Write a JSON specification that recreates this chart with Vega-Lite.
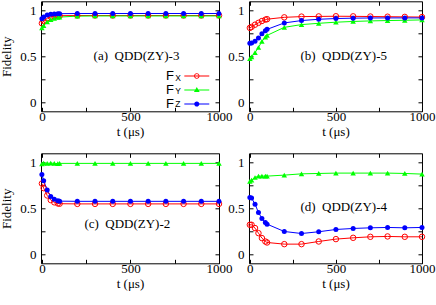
{
  "$schema": "https://vega.github.io/schema/vega-lite/v6.json",
  "padding": {"left": 0, "top": 0.3, "right": 5, "bottom": 5},
  "config": {
    "view": {"stroke": "#000000", "strokeWidth": 1},
    "axis": {"grid": false, "domain": false, "tickColor": "#000000", "tickSize": -4, "tickWidth": 1, "labelFont": "Liberation Serif", "labelFontSize": 13, "labelColor": "#000000", "titleFont": "Liberation Serif", "titleFontSize": 13, "titleFontWeight": "normal", "titleColor": "#000000", "labelFlush": false, "labelOverlap": false},
    "axisX": {"labelPadding": 3.5, "titlePadding": 2},
    "axisY": {"labelPadding": 9, "titlePadding": 6},
    "line": {"strokeWidth": 1},
    "text": {"font": "Liberation Serif", "fontSize": 13, "color": "#000000", "align": "left", "baseline": "middle"}
  },
  "data": {"values": [
    {"panel":"a","series":"X","t":0,"v":0.86},{"panel":"a","series":"X","t":10,"v":0.885},{"panel":"a","series":"X","t":30,"v":0.915},{"panel":"a","series":"X","t":50,"v":0.93},{"panel":"a","series":"X","t":70,"v":0.938},{"panel":"a","series":"X","t":90,"v":0.942},{"panel":"a","series":"X","t":100,"v":0.943},{"panel":"a","series":"X","t":200,"v":0.945},{"panel":"a","series":"X","t":300,"v":0.945},{"panel":"a","series":"X","t":400,"v":0.945},{"panel":"a","series":"X","t":500,"v":0.945},{"panel":"a","series":"X","t":600,"v":0.945},{"panel":"a","series":"X","t":700,"v":0.945},{"panel":"a","series":"X","t":800,"v":0.945},{"panel":"a","series":"X","t":900,"v":0.945},{"panel":"a","series":"X","t":1000,"v":0.945},
    {"panel":"a","series":"Y","t":0,"v":0.81},{"panel":"a","series":"Y","t":10,"v":0.835},{"panel":"a","series":"Y","t":30,"v":0.875},{"panel":"a","series":"Y","t":50,"v":0.9},{"panel":"a","series":"Y","t":70,"v":0.915},{"panel":"a","series":"Y","t":90,"v":0.925},{"panel":"a","series":"Y","t":100,"v":0.928},{"panel":"a","series":"Y","t":200,"v":0.938},{"panel":"a","series":"Y","t":300,"v":0.94},{"panel":"a","series":"Y","t":400,"v":0.94},{"panel":"a","series":"Y","t":500,"v":0.94},{"panel":"a","series":"Y","t":600,"v":0.94},{"panel":"a","series":"Y","t":700,"v":0.94},{"panel":"a","series":"Y","t":800,"v":0.94},{"panel":"a","series":"Y","t":900,"v":0.94},{"panel":"a","series":"Y","t":1000,"v":0.94},
    {"panel":"a","series":"Z","t":0,"v":0.91},{"panel":"a","series":"Z","t":10,"v":0.93},{"panel":"a","series":"Z","t":30,"v":0.95},{"panel":"a","series":"Z","t":50,"v":0.958},{"panel":"a","series":"Z","t":70,"v":0.962},{"panel":"a","series":"Z","t":90,"v":0.965},{"panel":"a","series":"Z","t":100,"v":0.965},{"panel":"a","series":"Z","t":200,"v":0.967},{"panel":"a","series":"Z","t":300,"v":0.967},{"panel":"a","series":"Z","t":400,"v":0.967},{"panel":"a","series":"Z","t":500,"v":0.967},{"panel":"a","series":"Z","t":600,"v":0.967},{"panel":"a","series":"Z","t":700,"v":0.967},{"panel":"a","series":"Z","t":800,"v":0.967},{"panel":"a","series":"Z","t":900,"v":0.967},{"panel":"a","series":"Z","t":1000,"v":0.967},
    {"panel":"b","series":"X","t":0,"v":0.81},{"panel":"b","series":"X","t":10,"v":0.82},{"panel":"b","series":"X","t":30,"v":0.845},{"panel":"b","series":"X","t":50,"v":0.865},{"panel":"b","series":"X","t":70,"v":0.885},{"panel":"b","series":"X","t":90,"v":0.9},{"panel":"b","series":"X","t":100,"v":0.905},{"panel":"b","series":"X","t":200,"v":0.925},{"panel":"b","series":"X","t":300,"v":0.933},{"panel":"b","series":"X","t":400,"v":0.935},{"panel":"b","series":"X","t":500,"v":0.937},{"panel":"b","series":"X","t":600,"v":0.936},{"panel":"b","series":"X","t":700,"v":0.934},{"panel":"b","series":"X","t":800,"v":0.932},{"panel":"b","series":"X","t":900,"v":0.93},{"panel":"b","series":"X","t":1000,"v":0.928},
    {"panel":"b","series":"Y","t":0,"v":0.474},{"panel":"b","series":"Y","t":10,"v":0.495},{"panel":"b","series":"Y","t":30,"v":0.54},{"panel":"b","series":"Y","t":50,"v":0.596},{"panel":"b","series":"Y","t":70,"v":0.662},{"panel":"b","series":"Y","t":90,"v":0.71},{"panel":"b","series":"Y","t":100,"v":0.728},{"panel":"b","series":"Y","t":200,"v":0.816},{"panel":"b","series":"Y","t":300,"v":0.846},{"panel":"b","series":"Y","t":400,"v":0.86},{"panel":"b","series":"Y","t":500,"v":0.872},{"panel":"b","series":"Y","t":600,"v":0.88},{"panel":"b","series":"Y","t":700,"v":0.886},{"panel":"b","series":"Y","t":800,"v":0.89},{"panel":"b","series":"Y","t":900,"v":0.893},{"panel":"b","series":"Y","t":1000,"v":0.897},
    {"panel":"b","series":"Z","t":0,"v":0.643},{"panel":"b","series":"Z","t":10,"v":0.645},{"panel":"b","series":"Z","t":30,"v":0.665},{"panel":"b","series":"Z","t":50,"v":0.7},{"panel":"b","series":"Z","t":70,"v":0.745},{"panel":"b","series":"Z","t":90,"v":0.78},{"panel":"b","series":"Z","t":100,"v":0.794},{"panel":"b","series":"Z","t":200,"v":0.864},{"panel":"b","series":"Z","t":300,"v":0.89},{"panel":"b","series":"Z","t":400,"v":0.904},{"panel":"b","series":"Z","t":500,"v":0.912},{"panel":"b","series":"Z","t":600,"v":0.916},{"panel":"b","series":"Z","t":700,"v":0.918},{"panel":"b","series":"Z","t":800,"v":0.919},{"panel":"b","series":"Z","t":900,"v":0.919},{"panel":"b","series":"Z","t":1000,"v":0.919},
    {"panel":"c","series":"X","t":0,"v":0.77},{"panel":"c","series":"X","t":10,"v":0.72},{"panel":"c","series":"X","t":30,"v":0.64},{"panel":"c","series":"X","t":50,"v":0.59},{"panel":"c","series":"X","t":70,"v":0.565},{"panel":"c","series":"X","t":90,"v":0.553},{"panel":"c","series":"X","t":100,"v":0.55},{"panel":"c","series":"X","t":200,"v":0.548},{"panel":"c","series":"X","t":300,"v":0.548},{"panel":"c","series":"X","t":400,"v":0.548},{"panel":"c","series":"X","t":500,"v":0.548},{"panel":"c","series":"X","t":600,"v":0.548},{"panel":"c","series":"X","t":700,"v":0.548},{"panel":"c","series":"X","t":800,"v":0.548},{"panel":"c","series":"X","t":900,"v":0.548},{"panel":"c","series":"X","t":1000,"v":0.548},
    {"panel":"c","series":"Y","t":0,"v":0.985},{"panel":"c","series":"Y","t":10,"v":0.992},{"panel":"c","series":"Y","t":30,"v":0.99},{"panel":"c","series":"Y","t":50,"v":0.993},{"panel":"c","series":"Y","t":70,"v":0.99},{"panel":"c","series":"Y","t":90,"v":0.988},{"panel":"c","series":"Y","t":100,"v":0.99},{"panel":"c","series":"Y","t":200,"v":0.99},{"panel":"c","series":"Y","t":300,"v":0.99},{"panel":"c","series":"Y","t":400,"v":0.99},{"panel":"c","series":"Y","t":500,"v":0.99},{"panel":"c","series":"Y","t":600,"v":0.99},{"panel":"c","series":"Y","t":700,"v":0.99},{"panel":"c","series":"Y","t":800,"v":0.99},{"panel":"c","series":"Y","t":900,"v":0.99},{"panel":"c","series":"Y","t":1000,"v":0.99},
    {"panel":"c","series":"Z","t":0,"v":0.87},{"panel":"c","series":"Z","t":10,"v":0.8},{"panel":"c","series":"Z","t":30,"v":0.7},{"panel":"c","series":"Z","t":50,"v":0.63},{"panel":"c","series":"Z","t":70,"v":0.598},{"panel":"c","series":"Z","t":90,"v":0.582},{"panel":"c","series":"Z","t":100,"v":0.578},{"panel":"c","series":"Z","t":200,"v":0.576},{"panel":"c","series":"Z","t":300,"v":0.576},{"panel":"c","series":"Z","t":400,"v":0.576},{"panel":"c","series":"Z","t":500,"v":0.576},{"panel":"c","series":"Z","t":600,"v":0.576},{"panel":"c","series":"Z","t":700,"v":0.576},{"panel":"c","series":"Z","t":800,"v":0.576},{"panel":"c","series":"Z","t":900,"v":0.576},{"panel":"c","series":"Z","t":1000,"v":0.576},
    {"panel":"d","series":"X","t":0,"v":0.32},{"panel":"d","series":"X","t":10,"v":0.32},{"panel":"d","series":"X","t":30,"v":0.284},{"panel":"d","series":"X","t":50,"v":0.229},{"panel":"d","series":"X","t":70,"v":0.175},{"panel":"d","series":"X","t":90,"v":0.138},{"panel":"d","series":"X","t":100,"v":0.127},{"panel":"d","series":"X","t":200,"v":0.109},{"panel":"d","series":"X","t":300,"v":0.109},{"panel":"d","series":"X","t":400,"v":0.138},{"panel":"d","series":"X","t":500,"v":0.164},{"panel":"d","series":"X","t":600,"v":0.178},{"panel":"d","series":"X","t":700,"v":0.189},{"panel":"d","series":"X","t":800,"v":0.193},{"panel":"d","series":"X","t":900,"v":0.189},{"panel":"d","series":"X","t":1000,"v":0.189},
    {"panel":"d","series":"Y","t":0,"v":0.793},{"panel":"d","series":"Y","t":10,"v":0.807},{"panel":"d","series":"Y","t":30,"v":0.836},{"panel":"d","series":"Y","t":50,"v":0.851},{"panel":"d","series":"Y","t":70,"v":0.851},{"panel":"d","series":"Y","t":90,"v":0.851},{"panel":"d","series":"Y","t":100,"v":0.851},{"panel":"d","series":"Y","t":200,"v":0.862},{"panel":"d","series":"Y","t":300,"v":0.876},{"panel":"d","series":"Y","t":400,"v":0.88},{"panel":"d","series":"Y","t":500,"v":0.884},{"panel":"d","series":"Y","t":600,"v":0.884},{"panel":"d","series":"Y","t":700,"v":0.884},{"panel":"d","series":"Y","t":800,"v":0.884},{"panel":"d","series":"Y","t":900,"v":0.88},{"panel":"d","series":"Y","t":1000,"v":0.873},
    {"panel":"d","series":"Z","t":0,"v":0.618},{"panel":"d","series":"Z","t":10,"v":0.611},{"panel":"d","series":"Z","t":30,"v":0.545},{"panel":"d","series":"Z","t":50,"v":0.455},{"panel":"d","series":"Z","t":70,"v":0.389},{"panel":"d","series":"Z","t":90,"v":0.345},{"panel":"d","series":"Z","t":100,"v":0.327},{"panel":"d","series":"Z","t":200,"v":0.247},{"panel":"d","series":"Z","t":300,"v":0.225},{"panel":"d","series":"Z","t":400,"v":0.244},{"panel":"d","series":"Z","t":500,"v":0.269},{"panel":"d","series":"Z","t":600,"v":0.28},{"panel":"d","series":"Z","t":700,"v":0.287},{"panel":"d","series":"Z","t":800,"v":0.291},{"panel":"d","series":"Z","t":900,"v":0.287},{"panel":"d","series":"Z","t":1000,"v":0.291}
  ]},
  "columns": 2,
  "spacing": {"row": 42, "column": 30},
  "bounds": "flush",
  "concat": [
    {
      "width": 178, "height": 110,
      "layer": [
        {"transform": [{"filter": "datum.panel === 'a' && datum.series === 'X'"}],
         "mark": {"type": "line", "color": "#ff0000"},
         "encoding": {
           "x": {"field": "t", "type": "quantitative", "scale": {"domain": [-5, 1000], "nice": false, "zero": false}, "axis": {"orient": "bottom", "values": [0, 250, 500, 750, 1000], "format": "d", "labelExpr": "datum.value % 500 === 0 ? datum.label : ''", "title": "t (μs)"}},
           "y": {"field": "v", "type": "quantitative", "scale": {"domain": [-0.1, 1.1], "nice": false, "zero": false}, "axis": {"orient": "left", "values": [0, 0.25, 0.5, 0.75, 1], "format": "~g", "labelExpr": "(datum.value === 0.25 || datum.value === 0.75) ? '' : datum.label", "title": "Fidelity"}}}},
        {"transform": [{"filter": "datum.panel === 'a' && datum.series === 'Y'"}],
         "mark": {"type": "line", "color": "#00ff00"},
         "encoding": {"x": {"field": "t", "type": "quantitative", "axis": null}, "y": {"field": "v", "type": "quantitative", "axis": null}}},
        {"transform": [{"filter": "datum.panel === 'a' && datum.series === 'Z'"}],
         "mark": {"type": "line", "color": "#0000ff"},
         "encoding": {"x": {"field": "t", "type": "quantitative", "axis": null}, "y": {"field": "v", "type": "quantitative", "axis": null}}},
        {"transform": [{"filter": "datum.panel === 'a' && datum.series === 'X'"}],
         "mark": {"type": "point", "shape": "circle", "filled": false, "size": 30, "strokeWidth": 1, "opacity": 1, "color": "#ff0000"},
         "encoding": {
           "x": {"field": "t", "type": "quantitative", "axis": {"orient": "top", "values": [0, 250, 500, 750, 1000], "labels": false, "title": null}},
           "y": {"field": "v", "type": "quantitative", "axis": {"orient": "right", "values": [0, 0.25, 0.5, 0.75, 1], "labels": false, "title": null}}}},
        {"transform": [{"filter": "datum.panel === 'a' && datum.series === 'Y'"}],
         "mark": {"type": "point", "shape": "triangle-up", "filled": true, "size": 30, "opacity": 1, "color": "#00ff00"},
         "encoding": {"x": {"field": "t", "type": "quantitative", "axis": null}, "y": {"field": "v", "type": "quantitative", "axis": null}}},
        {"transform": [{"filter": "datum.panel === 'a' && datum.series === 'Z'"}],
         "mark": {"type": "point", "shape": "circle", "filled": true, "size": 25, "opacity": 1, "color": "#0000ff"},
         "encoding": {"x": {"field": "t", "type": "quantitative", "axis": null}, "y": {"field": "v", "type": "quantitative", "axis": null}}},
        {"data": {"values": [{"k": 1}]},
         "mark": {"type": "text"},
         "encoding": {
           "x": {"datum": 292, "type": "quantitative", "axis": null},
           "y": {"datum": 0.5, "type": "quantitative", "axis": null},
           "text": {"value": "(a)\u00a0 QDD(ZY)-3"}}},
        {"transform": [{"filter": "false"}],
         "mark": {"type": "point", "filled": true, "opacity": 1},
         "encoding": {
           "x": {"field": "t", "type": "quantitative", "axis": null},
           "y": {"field": "v", "type": "quantitative", "axis": null},
           "color": {"field": "series", "type": "nominal", "scale": {"domain": ["X", "Y", "Z"], "range": ["#ff0000", "#00ff00", "#0000ff"]},
             "legend": {"orient": "none", "legendX": 149.3, "legendY": 68.2, "title": null, "labelExpr": "'F'", "labelFont": "Liberation Sans", "labelFontSize": 13, "labelColor": "#000000", "labelAlign": "left", "labelBaseline": "middle", "labelOffset": -37.3, "symbolSize": 169, "symbolStrokeWidth": 0, "symbolFillColor": "#000000", "rowPadding": 0, "padding": 0}},
           "shape": {"field": "series", "type": "nominal", "scale": {"domain": ["X", "Y", "Z"], "range": [
               "M-1.92,-0.077H1.92V0.077H-1.92ZM0.42,0A0.42,0.42 0 1,1 -0.42,0A0.42,0.42 0 1,1 0.42,0ZM0.29,0A0.29,0.29 0 1,0 -0.29,0A0.29,0.29 0 1,0 0.29,0Z",
               "M-1.92,-0.077H1.92V0.077H-1.92ZM0,-0.46L0.44,0.31L-0.44,0.31Z",
               "M-1.92,-0.077H1.92V0.077H-1.92ZM0.4,0A0.4,0.4 0 1,1 -0.4,0A0.4,0.4 0 1,1 0.4,0Z"]},
             "legend": {"orient": "none", "legendX": 149.3, "legendY": 68.2, "title": null, "labelExpr": "'F'", "labelFont": "Liberation Sans", "labelFontSize": 13, "labelColor": "#000000", "labelAlign": "left", "labelBaseline": "middle", "labelOffset": -37.3, "symbolSize": 169, "symbolStrokeWidth": 0, "symbolFillColor": "#000000", "rowPadding": 0, "padding": 0}},
           "strokeDash": {"field": "sub", "type": "nominal", "scale": {"domain": ["sX", "sY", "sZ"]},
             "legend": {"orient": "none", "legendX": 149.3, "legendY": 70.7, "title": null, "labelExpr": "substring(datum.label, 1)", "labelFont": "Liberation Sans", "labelFontSize": 8.5, "labelColor": "#000000", "labelAlign": "left", "labelBaseline": "middle", "labelOffset": -28, "symbolSize": 169, "symbolStrokeWidth": 0, "symbolOpacity": 0, "rowPadding": 0, "padding": 0}}}}
      ],
      "resolve": {"axis": {"x": "independent", "y": "independent"}}
    },
    {
      "width": 173, "height": 110,
      "layer": [
        {"transform": [{"filter": "datum.panel === 'b' && datum.series === 'X'"}],
         "mark": {"type": "line", "color": "#ff0000"},
         "encoding": {
           "x": {"field": "t", "type": "quantitative", "scale": {"domain": [-5, 1000], "nice": false, "zero": false}, "axis": {"orient": "bottom", "values": [0, 250, 500, 750, 1000], "format": "d", "labelExpr": "datum.value % 500 === 0 ? datum.label : ''", "title": "t (μs)"}},
           "y": {"field": "v", "type": "quantitative", "scale": {"domain": [-0.1, 1.1], "nice": false, "zero": false}, "axis": {"orient": "left", "values": [0, 0.25, 0.5, 0.75, 1], "format": "~g", "labelExpr": "(datum.value === 0.25 || datum.value === 0.75) ? '' : datum.label", "title": null}}}},
        {"transform": [{"filter": "datum.panel === 'b' && datum.series === 'Y'"}],
         "mark": {"type": "line", "color": "#00ff00"},
         "encoding": {"x": {"field": "t", "type": "quantitative", "axis": null}, "y": {"field": "v", "type": "quantitative", "axis": null}}},
        {"transform": [{"filter": "datum.panel === 'b' && datum.series === 'Z'"}],
         "mark": {"type": "line", "color": "#0000ff"},
         "encoding": {"x": {"field": "t", "type": "quantitative", "axis": null}, "y": {"field": "v", "type": "quantitative", "axis": null}}},
        {"transform": [{"filter": "datum.panel === 'b' && datum.series === 'X'"}],
         "mark": {"type": "point", "shape": "circle", "filled": false, "size": 30, "strokeWidth": 1, "opacity": 1, "color": "#ff0000"},
         "encoding": {
           "x": {"field": "t", "type": "quantitative", "axis": {"orient": "top", "values": [0, 250, 500, 750, 1000], "labels": false, "title": null}},
           "y": {"field": "v", "type": "quantitative", "axis": {"orient": "right", "values": [0, 0.25, 0.5, 0.75, 1], "labels": false, "title": null}}}},
        {"transform": [{"filter": "datum.panel === 'b' && datum.series === 'Y'"}],
         "mark": {"type": "point", "shape": "triangle-up", "filled": true, "size": 30, "opacity": 1, "color": "#00ff00"},
         "encoding": {"x": {"field": "t", "type": "quantitative", "axis": null}, "y": {"field": "v", "type": "quantitative", "axis": null}}},
        {"transform": [{"filter": "datum.panel === 'b' && datum.series === 'Z'"}],
         "mark": {"type": "point", "shape": "circle", "filled": true, "size": 25, "opacity": 1, "color": "#0000ff"},
         "encoding": {"x": {"field": "t", "type": "quantitative", "axis": null}, "y": {"field": "v", "type": "quantitative", "axis": null}}},
        {"data": {"values": [{"k": 1}]},
         "mark": {"type": "text"},
         "encoding": {
           "x": {"datum": 294, "type": "quantitative", "axis": null},
           "y": {"datum": 0.5, "type": "quantitative", "axis": null},
           "text": {"value": "(b)\u00a0 QDD(ZY)-5"}}}
      ],
      "resolve": {"axis": {"x": "independent", "y": "independent"}}
    },
    {
      "width": 178, "height": 110,
      "layer": [
        {"transform": [{"filter": "datum.panel === 'c' && datum.series === 'X'"}],
         "mark": {"type": "line", "color": "#ff0000"},
         "encoding": {
           "x": {"field": "t", "type": "quantitative", "scale": {"domain": [-5, 1000], "nice": false, "zero": false}, "axis": {"orient": "bottom", "values": [0, 250, 500, 750, 1000], "format": "d", "labelExpr": "datum.value % 500 === 0 ? datum.label : ''", "title": "t (μs)"}},
           "y": {"field": "v", "type": "quantitative", "scale": {"domain": [-0.1, 1.1], "nice": false, "zero": false}, "axis": {"orient": "left", "values": [0, 0.25, 0.5, 0.75, 1], "format": "~g", "labelExpr": "(datum.value === 0.25 || datum.value === 0.75) ? '' : datum.label", "title": "Fidelity"}}}},
        {"transform": [{"filter": "datum.panel === 'c' && datum.series === 'Y'"}],
         "mark": {"type": "line", "color": "#00ff00"},
         "encoding": {"x": {"field": "t", "type": "quantitative", "axis": null}, "y": {"field": "v", "type": "quantitative", "axis": null}}},
        {"transform": [{"filter": "datum.panel === 'c' && datum.series === 'Z'"}],
         "mark": {"type": "line", "color": "#0000ff"},
         "encoding": {"x": {"field": "t", "type": "quantitative", "axis": null}, "y": {"field": "v", "type": "quantitative", "axis": null}}},
        {"transform": [{"filter": "datum.panel === 'c' && datum.series === 'X'"}],
         "mark": {"type": "point", "shape": "circle", "filled": false, "size": 30, "strokeWidth": 1, "opacity": 1, "color": "#ff0000"},
         "encoding": {
           "x": {"field": "t", "type": "quantitative", "axis": {"orient": "top", "values": [0, 250, 500, 750, 1000], "labels": false, "title": null}},
           "y": {"field": "v", "type": "quantitative", "axis": {"orient": "right", "values": [0, 0.25, 0.5, 0.75, 1], "labels": false, "title": null}}}},
        {"transform": [{"filter": "datum.panel === 'c' && datum.series === 'Y'"}],
         "mark": {"type": "point", "shape": "triangle-up", "filled": true, "size": 30, "opacity": 1, "color": "#00ff00"},
         "encoding": {"x": {"field": "t", "type": "quantitative", "axis": null}, "y": {"field": "v", "type": "quantitative", "axis": null}}},
        {"transform": [{"filter": "datum.panel === 'c' && datum.series === 'Z'"}],
         "mark": {"type": "point", "shape": "circle", "filled": true, "size": 25, "opacity": 1, "color": "#0000ff"},
         "encoding": {"x": {"field": "t", "type": "quantitative", "axis": null}, "y": {"field": "v", "type": "quantitative", "axis": null}}},
        {"data": {"values": [{"k": 1}]},
         "mark": {"type": "text"},
         "encoding": {
           "x": {"datum": 240, "type": "quantitative", "axis": null},
           "y": {"datum": 0.33, "type": "quantitative", "axis": null},
           "text": {"value": "(c)\u00a0 QDD(ZY)-2"}}}
      ],
      "resolve": {"axis": {"x": "independent", "y": "independent"}}
    },
    {
      "width": 173, "height": 110,
      "layer": [
        {"transform": [{"filter": "datum.panel === 'd' && datum.series === 'X'"}],
         "mark": {"type": "line", "color": "#ff0000"},
         "encoding": {
           "x": {"field": "t", "type": "quantitative", "scale": {"domain": [-5, 1000], "nice": false, "zero": false}, "axis": {"orient": "bottom", "values": [0, 250, 500, 750, 1000], "format": "d", "labelExpr": "datum.value % 500 === 0 ? datum.label : ''", "title": "t (μs)"}},
           "y": {"field": "v", "type": "quantitative", "scale": {"domain": [-0.1, 1.1], "nice": false, "zero": false}, "axis": {"orient": "left", "values": [0, 0.25, 0.5, 0.75, 1], "format": "~g", "labelExpr": "(datum.value === 0.25 || datum.value === 0.75) ? '' : datum.label", "title": null}}}},
        {"transform": [{"filter": "datum.panel === 'd' && datum.series === 'Y'"}],
         "mark": {"type": "line", "color": "#00ff00"},
         "encoding": {"x": {"field": "t", "type": "quantitative", "axis": null}, "y": {"field": "v", "type": "quantitative", "axis": null}}},
        {"transform": [{"filter": "datum.panel === 'd' && datum.series === 'Z'"}],
         "mark": {"type": "line", "color": "#0000ff"},
         "encoding": {"x": {"field": "t", "type": "quantitative", "axis": null}, "y": {"field": "v", "type": "quantitative", "axis": null}}},
        {"transform": [{"filter": "datum.panel === 'd' && datum.series === 'X'"}],
         "mark": {"type": "point", "shape": "circle", "filled": false, "size": 30, "strokeWidth": 1, "opacity": 1, "color": "#ff0000"},
         "encoding": {
           "x": {"field": "t", "type": "quantitative", "axis": {"orient": "top", "values": [0, 250, 500, 750, 1000], "labels": false, "title": null}},
           "y": {"field": "v", "type": "quantitative", "axis": {"orient": "right", "values": [0, 0.25, 0.5, 0.75, 1], "labels": false, "title": null}}}},
        {"transform": [{"filter": "datum.panel === 'd' && datum.series === 'Y'"}],
         "mark": {"type": "point", "shape": "triangle-up", "filled": true, "size": 30, "opacity": 1, "color": "#00ff00"},
         "encoding": {"x": {"field": "t", "type": "quantitative", "axis": null}, "y": {"field": "v", "type": "quantitative", "axis": null}}},
        {"transform": [{"filter": "datum.panel === 'd' && datum.series === 'Z'"}],
         "mark": {"type": "point", "shape": "circle", "filled": true, "size": 25, "opacity": 1, "color": "#0000ff"},
         "encoding": {"x": {"field": "t", "type": "quantitative", "axis": null}, "y": {"field": "v", "type": "quantitative", "axis": null}}},
        {"data": {"values": [{"k": 1}]},
         "mark": {"type": "text"},
         "encoding": {
           "x": {"datum": 294, "type": "quantitative", "axis": null},
           "y": {"datum": 0.51, "type": "quantitative", "axis": null},
           "text": {"value": "(d)\u00a0 QDD(ZY)-4"}}}
      ],
      "resolve": {"axis": {"x": "independent", "y": "independent"}}
    }
  ]
}
